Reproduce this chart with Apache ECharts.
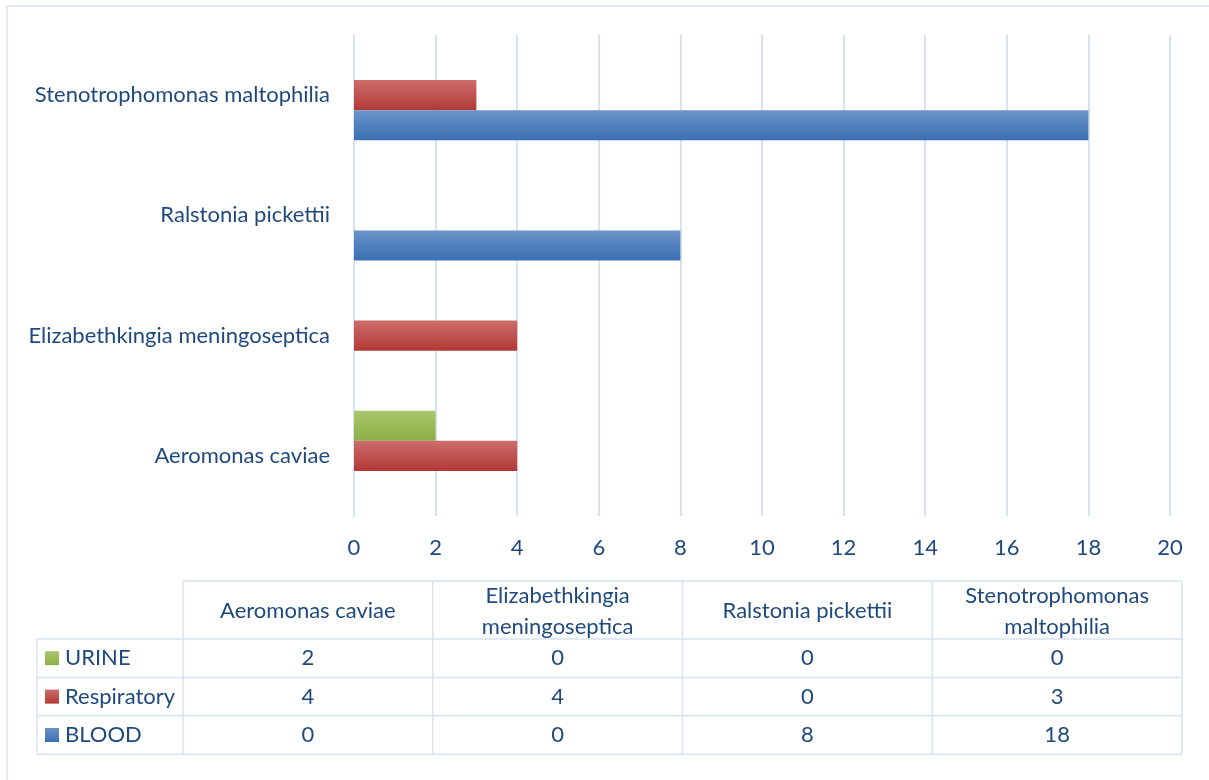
<!DOCTYPE html>
<html>
<head>
<meta charset="utf-8">
<title>Isolates by specimen type</title>
<script src="https://cdn.jsdelivr.net/npm/echarts@6/dist/echarts.min.js"></script>
<style>
  html, body { margin: 0; padding: 0; background: #ffffff; }
  #chart { width: 1209px; height: 780px; }
</style>
</head>
<body>
<div id="chart"></div>
<script>
// Organisms (bottom to top on the category axis)
const categories = ['Aeromonas caviae', 'Elizabethkingia meningoseptica', 'Ralstonia pickettii', 'Stenotrophomonas maltophilia'];
// Table header labels (wrapped as drawn in the table)
const tableHeaders = ['Aeromonas caviae', 'Elizabethkingia\nmeningoseptica', 'Ralstonia pickettii', 'Stenotrophomonas\nmaltophilia'];
// Counts per specimen type, in category order
const urine = [2, 0, 0, 0];
const respiratory = [4, 4, 0, 3];
const blood = [0, 0, 8, 18];
const xTicks = [0, 2, 4, 6, 8, 10, 12, 14, 16, 18, 20];

const TEXT = '#1f497d';
const LINE = '#d7e3f1';
const FONT = 'Lato';
const FS = 22;

const palette = {
  URINE: ['#abc66f', '#8bae45'],
  Respiratory: ['#cc6d6a', '#b23936'],
  BLOOD: ['#6b93c9', '#3a6fb3']
};
const grad = (c) => new echarts.graphic.LinearGradient(0, 0, 0, 1, [
  { offset: 0, color: c[0] }, { offset: 1, color: c[1] }
]);

// Rows of the data table, top to bottom
const tableRows = [
  { name: 'URINE', values: urine },
  { name: 'Respiratory', values: respiratory },
  { name: 'BLOOD', values: blood }
];

const chart = echarts.init(document.getElementById('chart'), null, { renderer: 'canvas' });

function barSeries(name, values) {
  return {
    name: name,
    type: 'bar',
    data: values,
    barGap: '0%',
    barCategoryGap: '25%',
    itemStyle: { color: grad(palette[name]) },
    emphasis: { disabled: true },
    animation: false
  };
}

// Data table geometry
const tbl = {
  left: 37, labelRight: 183, right: 1182,
  headerTop: 581, headerBottom: 639,
  rowH: 38.4
};

function buildTable() {
  const els = [];
  const colW = (tbl.right - tbl.labelRight) / categories.length;
  const bottom = tbl.headerBottom + tbl.rowH * tableRows.length;
  const ls = { stroke: LINE, lineWidth: 1.5 };
  const line = (x1, y1, x2, y2) => ({ type: 'line', shape: { x1, y1, x2, y2 }, style: ls, silent: true });
  const font = FS + 'px ' + FONT;

  // header row box (no label column)
  els.push(line(tbl.labelRight, tbl.headerTop, tbl.right, tbl.headerTop));
  // horizontal lines under header and each row
  for (let r = 0; r <= tableRows.length; r++) {
    const y = tbl.headerBottom + r * tbl.rowH;
    els.push(line(tbl.left, y, tbl.right, y));
  }
  // vertical lines
  els.push(line(tbl.left, tbl.headerBottom, tbl.left, bottom));
  for (let c = 0; c <= categories.length; c++) {
    const x = tbl.labelRight + c * colW;
    els.push(line(x, tbl.headerTop, x, bottom));
  }
  // header text
  tableHeaders.forEach((h, c) => {
    els.push({
      type: 'text', silent: true,
      x: tbl.labelRight + (c + 0.5) * colW,
      y: (tbl.headerTop + tbl.headerBottom) / 2 + 1,
      style: { text: h, fill: TEXT, font: font, align: 'center', verticalAlign: 'middle', lineHeight: 31 }
    });
  });
  // rows: legend key, series name, values
  tableRows.forEach((row, r) => {
    const cy = tbl.headerBottom + (r + 0.5) * tbl.rowH;
    els.push({
      type: 'rect', silent: true,
      shape: { x: 45, y: cy - 7, width: 14, height: 14 },
      style: { fill: grad(palette[row.name]) }
    });
    els.push({
      type: 'text', silent: true, x: 65, y: cy,
      style: { text: row.name, fill: TEXT, font: font, align: 'left', verticalAlign: 'middle' }
    });
    row.values.forEach((v, c) => {
      els.push({
        type: 'text', silent: true,
        x: tbl.labelRight + (c + 0.5) * colW, y: cy,
        style: { text: String(v), fill: TEXT, font: font, align: 'center', verticalAlign: 'middle' }
      });
    });
  });
  // outer chart frame (top and left edges)
  els.push(line(7, 6, 1209, 6));
  els.push(line(7, 6, 7, 780));
  return els;
}

chart.setOption({
  animation: false,
  backgroundColor: '#ffffff',
  textStyle: { fontFamily: FONT },
  grid: { left: 354, right: 39, top: 35, bottom: 264, containLabel: false },
  xAxis: {
    type: 'value',
    min: xTicks[0],
    max: xTicks[xTicks.length - 1],
    interval: xTicks[1] - xTicks[0],
    axisLine: { show: false },
    axisTick: { show: false },
    splitLine: { show: true, lineStyle: { color: LINE, width: 2 } },
    axisLabel: { color: TEXT, fontSize: FS, fontFamily: FONT, margin: 21 }
  },
  yAxis: {
    type: 'category',
    data: categories,
    axisLine: { show: true, lineStyle: { color: LINE, width: 2 } },
    axisTick: { show: false },
    axisLabel: { color: TEXT, fontSize: FS, fontFamily: FONT, margin: 24 }
  },
  series: [
    barSeries('URINE', urine),
    barSeries('Respiratory', respiratory),
    barSeries('BLOOD', blood)
  ],
  graphic: buildTable()
});
</script>
</body>
</html>
